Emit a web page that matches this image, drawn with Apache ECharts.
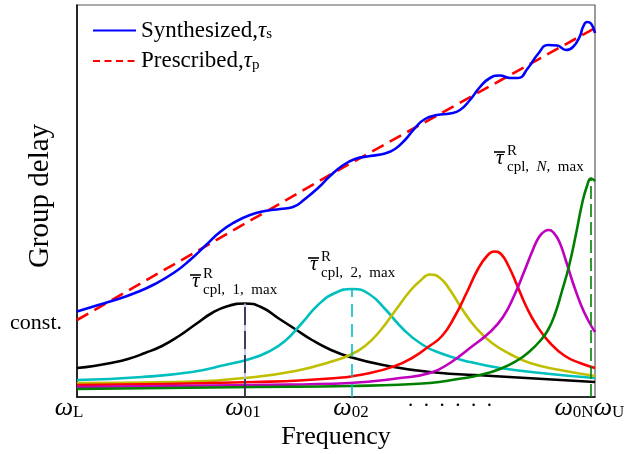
<!DOCTYPE html>
<html>
<head>
<meta charset="utf-8">
<script src="https://cdn.jsdelivr.net/npm/echarts@6.0.0/dist/echarts.min.js"></script>
<style>
html, body { margin: 0; padding: 0; background: #fff; }
#chart { width: 626px; height: 454px; }
</style>
</head>
<body>
<div id="chart"></div>
<script>
// frequency axis runs from wL (0) to wU (518), group delay 0..392 (arbitrary units)
const synthX = [0, 18, 38, 58, 78, 98, 113, 128, 143, 158, 173, 188, 203, 216, 228, 241, 253, 265, 278, 293, 308, 318, 328, 338, 348, 360, 373, 383, 393, 403, 413, 423, 433, 441, 451, 461, 471, 480, 489, 496, 503, 506, 510, 514, 518];
const synthY = [85.5, 91, 97, 104, 113, 125, 137, 151, 165, 175, 182, 186, 188, 190, 198, 209, 221, 231, 238, 241, 243.5, 248, 257, 269, 278, 282, 283.5, 287, 297, 310, 319, 321.5, 319, 319, 329, 343, 352, 351.5, 347, 350, 361, 370, 375, 373.5, 364];

const presX = [0, 258, 518];
const presY = [77, 225, 369];

const blackX = [0, 17, 34, 51, 68, 85, 102, 119, 135, 151, 168, 184, 201, 218, 235, 252, 273, 306, 353, 415, 518];
const blackY = [29, 31, 34, 38, 44, 51, 61, 73, 84, 91, 93.5, 90, 79, 68, 57, 48, 40, 32, 25, 21, 15];

const cyanX = [0, 65, 115, 148, 173, 191, 208, 225, 241, 258, 275, 292, 309, 326, 343, 363, 393, 423, 473, 518];
const cyanY = [17, 20, 25, 32, 38, 45, 56, 74, 92, 104, 108, 103, 87, 68, 54, 44, 35, 29, 23, 19];

const yellowX = [0, 98, 178, 223, 253, 273, 288, 303, 318, 333, 343, 353, 363, 373, 385, 400, 415, 433, 453, 483, 518];
const yellowY = [14, 15, 20, 27, 35, 42, 51, 66, 86, 106, 116, 122.5, 119, 107, 88, 68, 54, 43, 34, 27, 21];

const redX = [0, 178, 253, 293, 318, 335, 351, 365, 378, 390, 401, 410, 417, 424, 432, 440, 449, 460, 473, 488, 503, 518];
const redY = [12, 15, 18.5, 24, 31, 39, 50, 61, 81, 105, 128, 141, 145.5, 143, 130, 112, 91, 71, 54, 41, 34, 29];

const magX = [0, 178, 273, 323, 353, 373, 393, 413, 426, 437, 447, 455, 462, 468, 472, 476, 482, 489, 496, 504, 511, 518];
const magY = [10, 12, 14, 19, 24, 34, 49, 65, 80, 101, 125, 145, 160, 166, 167, 165, 156, 136, 114, 92, 77, 65];

const greenX = [0, 178, 273, 353, 381, 403, 423, 441, 453, 463, 471, 478, 485, 492, 499, 505, 510, 514, 518];
const greenY = [8, 10, 11, 14, 18, 22, 28, 37, 46, 56, 67, 83, 106, 131, 163, 193, 211, 218.5, 216];

// x tick labels: omega + subscript (index 4 goes on its own axis so it is not hidden)
const tickValues = [0, 168, 275, 373, 515, 518];
const tickSubs = ['L', '01', '02', '', '0N', 'U'];
const labelShift = [-8, -2, -1, 0, -18, 14];

const constLevel = 74;

const SERIF = "'Liberation Serif', 'Times New Roman', serif";

function pairs(xs, ys) {
    return xs.map((x, i) => [x, ys[i]]);
}

function peakOf(xs, ys) {
    let k = 0;
    ys.forEach((v, i) => { if (v > ys[k]) k = i; });
    return [xs[k], ys[k]];
}

function bell(data, color) {
    return {
        type: 'line',
        data: data,
        smooth: 0.5,
        symbol: 'none',
        lineStyle: { color: color, width: 2.6 },
        z: 3
    };
}

function dropLine(peak, color, dash, width) {
    return {
        type: 'line',
        data: [[peak[0], 0], [peak[0], peak[1]]],
        symbol: 'none',
        lineStyle: { color: color, width: width, type: dash },
        z: 4
    };
}

// tick label rich styles
const rich = {
    w: { fontFamily: SERIF, fontSize: 26, fontStyle: 'italic', lineHeight: 20, color: '#000' },
    s: { fontFamily: SERIF, fontSize: 17, height: 11, lineHeight: 11, verticalAlign: 'bottom', color: '#000' },
    d: { fontFamily: SERIF, fontSize: 21, height: 4, lineHeight: 4, verticalAlign: 'bottom', color: '#000' }
};
labelShift.forEach((s, i) => {
    rich['g' + i] = { width: Math.abs(s) * 2, lineHeight: 20 };
});

function tickFormatter(value) {
    const i = tickValues.indexOf(value);
    if (i < 0) return '';
    let body;
    if (tickSubs[i] === '') {
        body = '{d|.\u2002.\u2002.\u2002.\u2002.\u2002.}';
    } else {
        body = '{w|\u03c9}{s|' + tickSubs[i] + '}';
    }
    const gap = '{g' + i + '| }';
    if (labelShift[i] < 0) return body + gap;
    if (labelShift[i] > 0) return gap + body;
    return body;
}

function freqAxis(values, showLine) {
    return {
        type: 'value', min: 0, max: 518, position: 'bottom', offset: 0,
        name: showLine ? 'Frequency' : '', nameLocation: 'middle', nameGap: 27, nameMoveOverlap: false,
        nameTextStyle: { fontFamily: SERIF, fontSize: 26, color: '#000' },
        axisLine: { show: showLine, lineStyle: { color: '#000', width: 1.5 } },
        axisTick: { show: false },
        splitLine: { show: false },
        axisLabel: {
            customValues: values, formatter: tickFormatter, margin: 1, rich: rich, color: '#000',
            hideOverlap: false, showMinLabel: true, showMaxLabel: true
        }
    };
}

function peakLabel(x0, b, sub) {
    // overline tau with R superscript and subscript
    return [
        {
            type: 'text', z: 10,
            style: { text: '\u03c4', x: x0, y: b - 7, font: 'italic 21px ' + SERIF, fill: '#000', textAlign: 'left', textVerticalAlign: 'middle' }
        },
        {
            type: 'line', z: 10,
            shape: { x1: x0 - 2, y1: b - 13, x2: x0 + 9, y2: b - 13 },
            style: { stroke: '#000', lineWidth: 1.6 }
        },
        {
            type: 'text', z: 10,
            style: { text: 'R', x: x0 + 11, y: b - 14, font: '15px ' + SERIF, fill: '#000', textAlign: 'left', textVerticalAlign: 'middle' }
        },
        {
            type: 'text', z: 10,
            style: {
                text: sub, x: x0 + 11, y: b + 2, textAlign: 'left', textVerticalAlign: 'middle',
                rich: {
                    a: { fontFamily: SERIF, fontSize: 15, color: '#000' },
                    i: { fontFamily: SERIF, fontSize: 15, fontStyle: 'italic', color: '#000' }
                }
            }
        }
    ];
}

function initChart() {
    const dom = document.getElementById('chart');
    const chart = echarts.init(dom, null, { renderer: 'canvas' });

    const blackPeak = peakOf(blackX, blackY);
    const cyanPeak = peakOf(cyanX, cyanY);
    const greenPeak = peakOf(greenX, greenY);

    const legendRich = {
        m: { fontFamily: SERIF, fontSize: 23, lineHeight: 26, color: '#000' },
        t: { fontFamily: SERIF, fontSize: 23, fontStyle: 'italic', lineHeight: 26, color: '#000' },
        s: { fontFamily: SERIF, fontSize: 15, height: 18, lineHeight: 18, verticalAlign: 'bottom', color: '#000' }
    };

    const mainTicks = tickValues.filter((v, i) => i !== 4);

    const option = {
        animation: false,
        backgroundColor: '#fff',
        grid: { left: 77, right: 31, top: 5, bottom: 57, show: true, borderColor: '#5a5a5a', borderWidth: 1.2, outerBoundsMode: 'none' },
        legend: {
            data: [
                { name: 'Synthesized' },
                { name: 'Prescribed', lineStyle: { type: [7, 4.5] } }
            ],
            orient: 'vertical',
            left: 92, top: 19, padding: 0,
            itemWidth: 43, itemHeight: 14, itemGap: 6,
            itemStyle: { opacity: 0 },
            formatter: name => name === 'Synthesized'
                ? '{m|Synthesized,}{t|\u03c4}{s|s}'
                : '{m|Prescribed,}{t|\u03c4}{s|p}',
            textStyle: { rich: legendRich }
        },
        xAxis: [
            freqAxis(mainTicks, true),
            freqAxis([tickValues[4]], false)
        ],
        yAxis: {
            type: 'value', min: 0, max: 392,
            name: 'Group delay', nameLocation: 'middle', nameGap: 22, nameRotate: 90, nameMoveOverlap: false,
            nameTextStyle: { fontFamily: SERIF, fontSize: 29, color: '#000', padding: [0, 0, 0, 10] },
            axisLine: { show: true, lineStyle: { color: '#000', width: 1.5 } },
            axisTick: { show: false },
            splitLine: { show: false },
            axisLabel: { customValues: [constLevel], formatter: () => 'const.', margin: 15, fontFamily: SERIF, fontSize: 22, color: '#000' }
        },
        series: [
            bell(pairs(blackX, blackY), '#000000'),
            bell(pairs(cyanX, cyanY), '#00bfbf'),
            bell(pairs(yellowX, yellowY), '#bfbf00'),
            bell(pairs(redX, redY), '#ff0000'),
            bell(pairs(magX, magY), '#bf00bf'),
            bell(pairs(greenX, greenY), '#008000'),
            dropLine(blackPeak, '#b8b8ee', 'solid', 1.6),
            dropLine(blackPeak, '#1c1c38', [18, 6], 1.6),
            dropLine(cyanPeak, '#00bfbf', [13, 7], 1.6),
            dropLine(greenPeak, '#008000', [13, 5], 1.6),
            {
                name: 'Prescribed', type: 'line', data: pairs(presX, presY),
                symbol: 'none', lineStyle: { color: '#ff0000', width: 2.6, type: [13, 7] }, z: 5
            },
            {
                name: 'Synthesized', type: 'line', data: pairs(synthX, synthY),
                smooth: 0.5, symbol: 'none', lineStyle: { color: '#0000ff', width: 2.6 }, z: 6
            }
        ],
        graphic: [].concat(
            peakLabel(192, 288, '{a|cpl,  1,  max}'),
            peakLabel(310, 271, '{a|cpl,  2,  max}'),
            peakLabel(496, 165, '{a|cpl,  }{i|N}{a|,  max}')
        )
    };

    chart.setOption(option);
    return chart;
}

document.addEventListener('DOMContentLoaded', () => {
    initChart();
});
</script>
</body>
</html>
